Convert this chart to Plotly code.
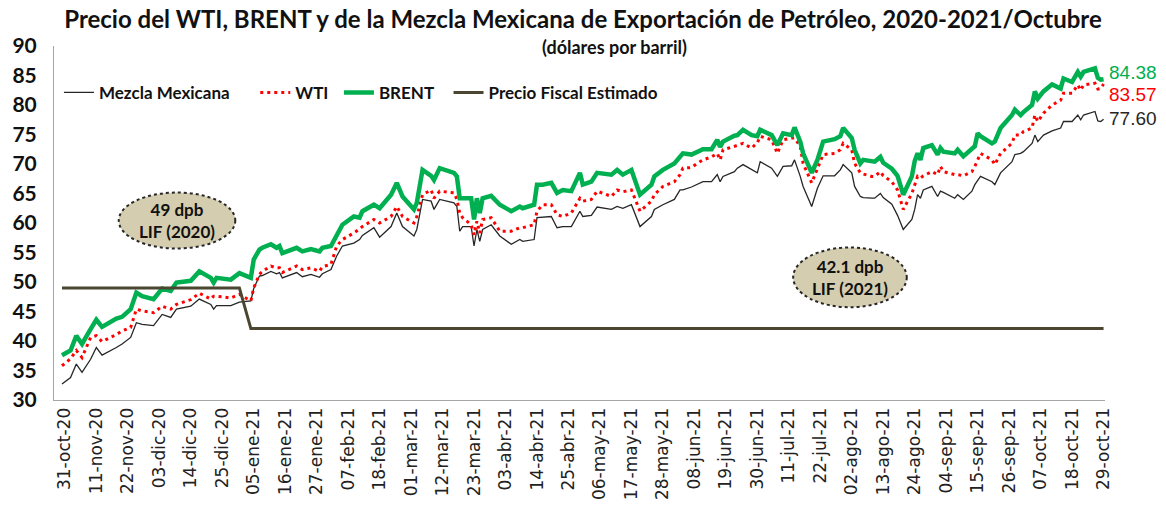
import plotly.graph_objects as go

dates = [
    "2020-10-30", "2020-11-02", "2020-11-04", "2020-11-06", "2020-11-09", "2020-11-11", "2020-11-13", "2020-11-16",
    "2020-11-18", "2020-11-20", "2020-11-23", "2020-11-25", "2020-11-27", "2020-12-01", "2020-12-04", "2020-12-07",
    "2020-12-09", "2020-12-14", "2020-12-17", "2020-12-21", "2020-12-22", "2020-12-23", "2020-12-28", "2020-12-31",
    "2021-01-04", "2021-01-05", "2021-01-07", "2021-01-08", "2021-01-11", "2021-01-13", "2021-01-14", "2021-01-15",
    "2021-01-20", "2021-01-22", "2021-01-25", "2021-01-28", "2021-01-29", "2021-02-01", "2021-02-03", "2021-02-05",
    "2021-02-09", "2021-02-11", "2021-02-12", "2021-02-16", "2021-02-18", "2021-02-22", "2021-02-24", "2021-02-26",
    "2021-03-02", "2021-03-03", "2021-03-05", "2021-03-08", "2021-03-09", "2021-03-11", "2021-03-16", "2021-03-17",
    "2021-03-18", "2021-03-19", "2021-03-22", "2021-03-23", "2021-03-24", "2021-03-25", "2021-03-26", "2021-03-29",
    "2021-04-01", "2021-04-05", "2021-04-08", "2021-04-09", "2021-04-13", "2021-04-14", "2021-04-16", "2021-04-19",
    "2021-04-21", "2021-04-23", "2021-04-26", "2021-04-29", "2021-04-30", "2021-05-03", "2021-05-05", "2021-05-10",
    "2021-05-12", "2021-05-14", "2021-05-17", "2021-05-20", "2021-05-24", "2021-05-25", "2021-05-28", "2021-06-01",
    "2021-06-03", "2021-06-04", "2021-06-07", "2021-06-09", "2021-06-11", "2021-06-14", "2021-06-16", "2021-06-17",
    "2021-06-18", "2021-06-22", "2021-06-23", "2021-06-25", "2021-06-28", "2021-06-30", "2021-07-01", "2021-07-05",
    "2021-07-07", "2021-07-09", "2021-07-12", "2021-07-13", "2021-07-15", "2021-07-16", "2021-07-19", "2021-07-21",
    "2021-07-23", "2021-07-27", "2021-07-29", "2021-07-30", "2021-08-02", "2021-08-03", "2021-08-05", "2021-08-06",
    "2021-08-09", "2021-08-10", "2021-08-12", "2021-08-13", "2021-08-16", "2021-08-18", "2021-08-20", "2021-08-23",
    "2021-08-24", "2021-08-25", "2021-08-26", "2021-08-27", "2021-08-30", "2021-09-01", "2021-09-02", "2021-09-03",
    "2021-09-07", "2021-09-08", "2021-09-10", "2021-09-13", "2021-09-14", "2021-09-15", "2021-09-16", "2021-09-20",
    "2021-09-21", "2021-09-23", "2021-09-27", "2021-09-28", "2021-09-30", "2021-10-01", "2021-10-04", "2021-10-05",
    "2021-10-06", "2021-10-08", "2021-10-11", "2021-10-14", "2021-10-15", "2021-10-18", "2021-10-20", "2021-10-21",
    "2021-10-22", "2021-10-26", "2021-10-27", "2021-10-28", "2021-10-29",
]

brent = [
    37.6, 38.4, 40.9, 39.5, 42.0, 43.6, 42.4, 43.2,
    43.8, 44.1, 45.4, 48.2, 47.6, 47.1, 48.9, 48.5,
    49.9, 50.2, 51.8, 50.7, 49.9, 50.7, 50.4, 51.5,
    50.7, 53.8, 55.5, 55.8, 56.4, 55.8, 56.1, 54.9,
    55.8, 55.2, 55.6, 55.2, 55.8, 56.1, 58.0, 59.7,
    61.1, 60.9, 62.0, 63.1, 62.5, 64.8, 66.8, 64.5,
    62.3, 63.4, 69.0, 68.0, 67.3, 69.3, 68.5, 67.9,
    64.2, 64.2, 64.2, 60.6, 64.2, 61.7, 64.2, 64.6,
    63.1, 62.0, 62.8, 62.5, 63.1, 66.5, 66.5, 66.8,
    65.1, 65.6, 65.4, 68.5, 66.5, 67.0, 68.5, 68.2,
    69.0, 68.2, 69.0, 64.8, 66.5, 67.9, 69.0, 70.1,
    71.3, 71.8, 71.6, 72.1, 72.5, 72.5, 74.1, 72.9,
    73.8, 74.8, 74.9, 75.8, 74.9, 74.7, 75.8, 74.9,
    73.2, 75.2, 74.9, 76.2, 73.8, 71.8, 68.5, 70.7,
    73.8, 74.2, 74.7, 76.1, 74.4, 72.4, 70.1, 70.7,
    70.4, 70.4, 71.2, 70.2, 69.2, 68.0, 64.8, 67.9,
    70.5, 71.8, 70.7, 72.7, 73.2, 71.6, 72.7, 72.1,
    71.8, 72.4, 71.3, 72.7, 73.0, 75.2, 74.7, 73.5,
    73.8, 76.1, 78.3, 79.2, 78.3, 78.8, 80.0, 82.3,
    81.1, 82.3, 83.5, 82.8, 84.5, 83.9, 85.6, 84.8,
    85.6, 86.2, 84.6, 84.3, 84.38,
]

wti = [
    35.8, 37.0, 38.4, 37.2, 40.6, 40.9, 39.9, 40.6,
    41.1, 41.7, 42.3, 45.4, 45.1, 44.8, 45.9, 45.4,
    46.2, 47.0, 48.1, 47.1, 47.6, 47.6, 47.3, 47.9,
    46.8, 49.0, 51.3, 51.8, 52.7, 52.4, 52.4, 51.6,
    52.7, 52.1, 52.4, 51.8, 52.6, 53.0, 56.1, 57.2,
    58.3, 59.0, 59.4, 60.6, 60.0, 61.1, 62.8, 61.1,
    60.0, 61.1, 64.8, 65.6, 64.2, 65.4, 65.1, 64.0,
    61.7, 60.9, 59.7, 58.0, 60.3, 58.3, 60.6, 60.9,
    58.6, 58.6, 59.2, 59.2, 59.7, 62.0, 63.1, 63.1,
    61.4, 61.1, 61.7, 64.2, 63.7, 64.0, 65.4, 64.5,
    65.6, 65.3, 65.6, 62.0, 63.7, 64.8, 66.2, 67.0,
    68.2, 69.3, 69.4, 70.1, 70.7, 71.2, 71.8, 70.7,
    72.4, 73.0, 73.2, 73.5, 72.7, 73.6, 74.7, 74.1,
    71.8, 74.1, 74.4, 74.4, 73.0, 70.1, 66.8, 69.3,
    71.6, 71.8, 72.4, 73.5, 72.4, 70.1, 68.5, 68.3,
    67.9, 67.9, 68.7, 68.0, 67.0, 65.6, 62.3, 65.0,
    66.5, 67.9, 67.6, 68.0, 68.7, 68.2, 69.6, 68.7,
    68.2, 68.2, 68.0, 68.7, 69.6, 70.7, 71.8, 70.7,
    69.9, 71.8, 73.5, 74.9, 74.9, 75.5, 76.1, 78.3,
    77.2, 78.6, 80.0, 80.8, 82.0, 82.0, 83.4, 82.5,
    83.4, 83.7, 82.7, 82.8, 83.57,
]

mezcla = [
    32.7, 33.8, 36.1, 34.7, 36.9, 38.9, 37.6, 38.3,
    38.9, 39.5, 40.6, 43.1, 42.8, 42.6, 44.5, 44.0,
    45.4, 45.9, 47.1, 46.2, 45.4, 46.0, 46.0, 46.6,
    46.8, 48.9, 51.0, 51.1, 51.8, 51.4, 51.6, 50.7,
    51.6, 50.9, 51.3, 50.8, 51.4, 52.1, 54.4, 56.1,
    56.6, 57.2, 57.9, 59.2, 57.6, 59.4, 61.7, 59.4,
    57.8, 58.9, 64.0, 63.7, 62.3, 64.0, 63.4, 62.8,
    58.6, 59.4, 59.4, 56.1, 58.9, 56.9, 58.9, 59.7,
    57.8, 56.4, 57.2, 56.9, 57.2, 60.9, 61.0, 61.1,
    59.2, 59.4, 59.4, 62.0, 61.1, 61.3, 62.7, 62.3,
    62.8, 62.5, 63.1, 59.4, 61.1, 62.3, 63.1, 64.0,
    65.6, 65.6, 66.1, 66.5, 67.0, 67.0, 68.2, 67.0,
    67.9, 68.7, 69.3, 69.9, 69.0, 68.5, 70.4, 69.3,
    67.9, 69.6, 69.7, 70.7, 67.9, 66.2, 62.8, 65.9,
    68.0, 68.0, 69.0, 69.9, 68.5, 66.2, 64.5, 64.3,
    64.2, 64.2, 65.0, 64.3, 63.2, 61.3, 58.9, 60.6,
    62.3, 64.8, 64.2, 65.6, 66.2, 64.5, 65.4, 65.2,
    64.2, 64.8, 64.0, 65.4, 66.5, 67.3, 67.9, 67.0,
    66.5, 68.5, 70.4, 71.6, 71.8, 72.1, 73.5, 74.9,
    73.8, 74.9, 75.6, 76.1, 77.2, 77.2, 78.3, 77.5,
    78.3, 78.9, 77.3, 77.2, 77.60,
]

fiscal_dates = ["2020-10-30", "2020-12-31", "2021-01-04", "2021-10-29"]
fiscal_values = [49.0, 49.0, 42.1, 42.1]

tick_dates = [
    "2020-10-31", "2020-11-11", "2020-11-22", "2020-12-03", "2020-12-14", "2020-12-25", "2021-01-05",
    "2021-01-16", "2021-01-27", "2021-02-07", "2021-02-18", "2021-03-01", "2021-03-12", "2021-03-23",
    "2021-04-03", "2021-04-14", "2021-04-25", "2021-05-06", "2021-05-17", "2021-05-28", "2021-06-08",
    "2021-06-19", "2021-06-30", "2021-07-11", "2021-07-22", "2021-08-02", "2021-08-13", "2021-08-24",
    "2021-09-04", "2021-09-15", "2021-09-26", "2021-10-07", "2021-10-18", "2021-10-29",
]
tick_labels = [
    "31-oct-20", "11-nov-20", "22-nov-20", "03-dic-20", "14-dic-20", "25-dic-20", "05-ene-21",
    "16-ene-21", "27-ene-21", "07-feb-21", "18-feb-21", "01-mar-21", "12-mar-21", "23-mar-21",
    "03-abr-21", "14-abr-21", "25-abr-21", "06-may-21", "17-may-21", "28-may-21", "08-jun-21",
    "19-jun-21", "30-jun-21", "11-jul-21", "22-jul-21", "02-ago-21", "13-ago-21", "24-ago-21",
    "04-sep-21", "15-sep-21", "26-sep-21", "07-oct-21", "18-oct-21", "29-oct-21",
]

C_MEZCLA = "#262626"
C_WTI = "#FF0000"
C_BRENT = "#00B050"
C_FISCAL = "#4A4631"

fig = go.Figure()
fig.add_trace(go.Scatter(x=dates, y=mezcla, mode="lines", name="Mezcla Mexicana", legend="legend",
                         line=dict(color=C_MEZCLA, width=1.3)))
fig.add_trace(go.Scatter(x=dates, y=wti, mode="lines", name="WTI", legend="legend2",
                         line=dict(color=C_WTI, width=3, dash="3px,4px")))
fig.add_trace(go.Scatter(x=dates, y=brent, mode="lines", name="BRENT", legend="legend3",
                         line=dict(color=C_BRENT, width=4.5)))
fig.add_trace(go.Scatter(x=fiscal_dates, y=fiscal_values, mode="lines", name="Precio Fiscal Estimado",
                         legend="legend4", line=dict(color=C_FISCAL, width=3)))

# End-value labels
for series, color, yshift in [(brent, C_BRENT, 7), (wti, C_WTI, -11), (mezcla, C_MEZCLA, 1)]:
    fig.add_annotation(x=dates[-1], y=series[-1], xref="x", yref="y", text=f"{series[-1]:.2f}",
                       showarrow=False, xanchor="left", yanchor="middle", xshift=3, yshift=yshift,
                       font=dict(family="Liberation Sans, Arial", size=19, color=color))

# LIF ellipses
ellipse_fill = "#D4CDAF"
for (x0, x1, y0, y1, txt) in [
    (0.0616, 0.1725, 0.428, 0.586, "49 dpb<br>LIF (2020)"),
    (0.7033, 0.8114, 0.262, 0.431, "42.1 dpb<br>LIF (2021)"),
]:
    fig.add_shape(type="circle", xref="paper", yref="paper", x0=x0, x1=x1, y0=y0, y1=y1,
                  fillcolor=ellipse_fill, line=dict(color="#262626", width=2, dash="dot"), layer="above")
    fig.add_annotation(x=(x0 + x1) / 2, y=(y0 + y1) / 2, xref="paper", yref="paper", text=txt,
                       showarrow=False, xanchor="center", yanchor="middle",
                       font=dict(family="Lato", size=17, color="#111111", weight="bold"))

# Subtitle
fig.add_annotation(x=0.533, y=0.997, xref="paper", yref="paper", text="(dólares por barril)",
                   showarrow=False, xanchor="center", yanchor="middle",
                   font=dict(family="Lato", size=18, color="#111111", weight="bold"))

legend_font = dict(family="Lato", size=17, color="#111111", weight="bold")
legend_common = dict(orientation="h", xanchor="left", y=0.8676, yanchor="middle",
                     bgcolor="rgba(0,0,0,0)", font=legend_font, itemwidth=30)

fig.update_layout(
    width=1166, height=512,
    margin=dict(l=50, r=61, t=46, b=111),
    paper_bgcolor="white", plot_bgcolor="white",
    title=dict(text="Precio del WTI, BRENT y de la Mezcla Mexicana de Exportación de Petróleo, 2020-2021/Octubre",
               x=0.5, xanchor="center", y=1 - 20 / 512, yanchor="middle", yref="container",
               font=dict(family="Lato", size=24, color="#111111", weight="bold")),
    showlegend=True,
    legend=dict(x=0.0047, **legend_common),
    legend2=dict(x=0.1915, **legend_common),
    legend3=dict(x=0.2711, **legend_common),
    legend4=dict(x=0.3754, **legend_common),
    xaxis=dict(type="date", range=["2020-10-27 05:00", "2021-10-29 12:00"],
               tickmode="array", tickvals=tick_dates, ticktext=tick_labels, tickangle=-90,
               showgrid=False, zeroline=False, showline=True, linecolor="#A6A6A6", linewidth=1,
               ticks="", tickfont=dict(family="DejaVu Sans", size=17, color="#222222")),
    yaxis=dict(range=[30, 90], tickmode="linear", tick0=30, dtick=5,
               showgrid=False, zeroline=False, showline=True, linecolor="#A6A6A6", linewidth=1,
               ticks="", ticklabelstandoff=12,
               tickfont=dict(family="Lato", size=21, color="#111111", weight="bold")),
)

fig.write_html("out.html", config={"displayModeBar": False},
               post_script="document.body.style.margin='0';")
